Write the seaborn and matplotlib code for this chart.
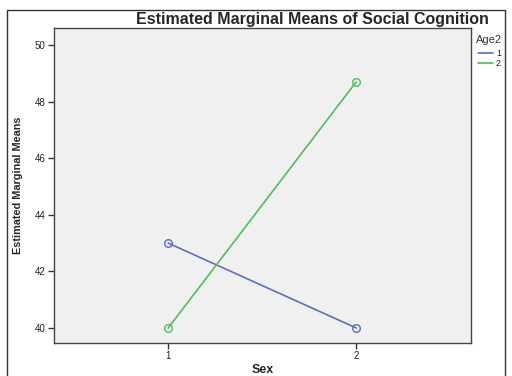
import pandas as pd
import seaborn as sns
import matplotlib.pyplot as plt
from matplotlib.patches import Rectangle

# Datos
sexo = [1, 2]
media_edad1 = [43.0, 40.0]
media_edad2 = [40.0, 48.7]
grupos_edad = ["1", "2"]
colores = ["#5a6ec8", "#4cc05a"]

df = pd.DataFrame({
    "Sex": sexo * 2,
    "Mean": media_edad1 + media_edad2,
    "Age2": [grupos_edad[0]] * 2 + [grupos_edad[1]] * 2,
})

sns.set_style("white")
plt.rcParams["font.family"] = ["Liberation Sans", "DejaVu Sans"]

fig = plt.figure(figsize=(5.12, 3.76), dpi=100)
ax = fig.add_axes([54 / 512, 1 - 343 / 376, (471 - 54) / 512, (343 - 28) / 376])
ax.set_facecolor("#f0f0f0")

# Una linea por grupo de edad, marcadores huecos del mismo color
for g, c in zip(grupos_edad, colores):
    sns.lineplot(
        data=df[df["Age2"] == g], x="Sex", y="Mean", color=c,
        marker="o", markersize=5.5, markerfacecolor="none",
        markeredgecolor=c, markeredgewidth=1.0,
        linewidth=1.2, ax=ax, legend=False,
    )

ax.set_xlim(0.393, 2.61)
ax.set_ylim(39.47, 50.6)
ax.set_xticks(sexo)
ax.set_xticklabels([str(s) for s in sexo])
ax.set_yticks([40, 42, 44, 46, 48, 50])
ax.tick_params(axis="both", direction="out", length=4, width=1, labelsize=7,
               color="#333333", labelcolor="#222222", pad=2, bottom=True, left=True)
for lado in ax.spines.values():
    lado.set_color("#444444")
    lado.set_linewidth(1.0)

ax.set_xlabel("Sex", fontsize=9, fontweight="bold", va="center")
ax.xaxis.set_label_coords(0.5, -0.086)
ax.set_ylabel("Estimated Marginal Means", fontsize=7.8, fontweight="bold", va="center")
ax.yaxis.set_label_coords(-36 / 417, (343 - 185) / 315)
ax.set_title("Estimated Marginal Means of Social Cognition", fontsize=11.5,
             fontweight="bold", x=0.62, pad=3)

# Leyenda manual al estilo SPSS
fig.text(476 / 512, 1 - 40 / 376, "Age2", fontsize=8, color="#333333", va="center")
for i, (g, c) in enumerate(zip(grupos_edad, colores)):
    y = 1 - (53 + i * 10) / 376
    fig.add_artist(plt.Line2D([478 / 512, 493 / 512], [y, y], color=c, lw=1.2))
    fig.text(496 / 512, y, g, fontsize=6.5, va="center", color="#222222")

# Marco exterior
fig.add_artist(Rectangle((7 / 512, -0.01), (505 - 7) / 512, 1 - 10 / 376 + 0.01,
                         fill=False, edgecolor="#333333", lw=1.0,
                         transform=fig.transFigure))

fig.savefig("out.png", dpi=100)
